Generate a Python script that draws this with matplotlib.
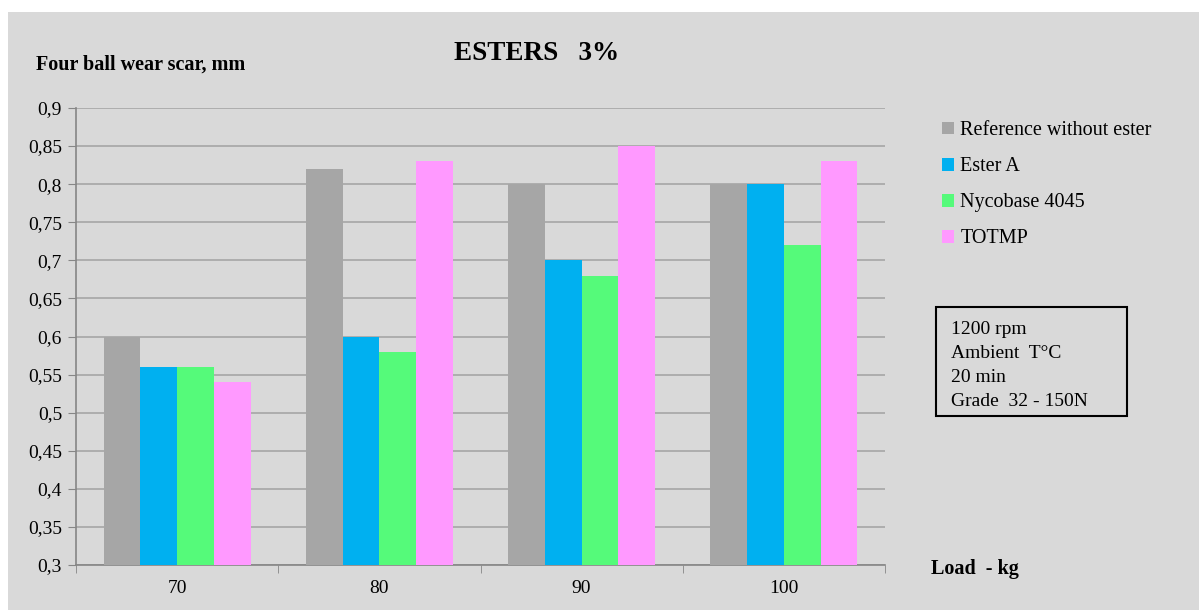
import matplotlib.pyplot as plt
import matplotlib.patches as mpatches
import numpy as np

# data
loads = ["70", "80", "90", "100"]
series_names = ["Reference without ester", "Ester A", "Nycobase 4045", "TOTMP"]
reference = [0.60, 0.82, 0.80, 0.80]
ester_a = [0.56, 0.60, 0.70, 0.80]
nycobase = [0.56, 0.58, 0.68, 0.72]
totmp = [0.54, 0.83, 0.85, 0.83]
y_ticks = [0.3, 0.35, 0.4, 0.45, 0.5, 0.55, 0.6, 0.65, 0.7, 0.75, 0.8, 0.85, 0.9]
y_tick_labels = ["0,3", "0,35", "0,4", "0,45", "0,5", "0,55", "0,6", "0,65", "0,7",
                 "0,75", "0,8", "0,85", "0,9"]
conditions = ["1200 rpm", "Ambient  T°C", "20 min", "Grade  32 - 150N"]

colors = ["#A6A6A6", "#00B0F0", "#55FA7A", "#FF99FF"]
bg = "#D9D9D9"

plt.rcParams["font.family"] = ["Liberation Serif", "DejaVu Serif"]

W, H = 1199, 610
fig = plt.figure(figsize=(W / 100, H / 100), dpi=100)
fig.patch.set_facecolor("white")
fig.patches.append(mpatches.Rectangle((8 / W, 0), 1, 1 - 12 / H,
                                      transform=fig.transFigure,
                                      facecolor=bg, edgecolor="none", zorder=-5))

ax = fig.add_axes([76 / W, 45 / H, 809 / W, 457 / H])
ax.set_facecolor(bg)

x = np.arange(len(loads))
w = 1 / 5.5
all_values = [reference, ester_a, nycobase, totmp]
for i, (vals, name) in enumerate(zip(all_values, series_names)):
    ax.bar(x + (i - 1.5) * w, np.array(vals) - 0.3, w, bottom=0.3,
           color=colors[i], label=name, zorder=3)

ax.set_xlim(-0.5, len(loads) - 0.5)
ax.set_ylim(0.3, 0.9)
ax.set_yticks(y_ticks)
ax.set_yticklabels(y_tick_labels, fontsize=14)
ax.set_xticks(x)
ax.set_xticklabels(loads, fontsize=14)
ax.set_xticks(np.arange(len(loads) + 1) - 0.5, minor=True)
ax.tick_params(axis="x", which="major", length=0, pad=11)
ax.tick_params(axis="x", which="minor", length=6, color="#868686")
ax.tick_params(axis="y", length=6, color="#868686", pad=4)
ax.grid(axis="y", color="#A6A6A6", linewidth=1.2, zorder=0)
for side in ["top", "right"]:
    ax.spines[side].set_visible(False)
for side in ["left", "bottom"]:
    ax.spines[side].set_color("#868686")
    ax.spines[side].set_linewidth(1.2)

fig.text(537 / W, 1 - 54 / H, "ESTERS   3%", ha="center", va="center",
         fontsize=19.5, fontweight="bold")
fig.text(36 / W, 1 - 65 / H, "Four ball wear scar, mm", ha="left", va="center",
         fontsize=14.5, fontweight="bold")
fig.text(931 / W, 1 - 569 / H, "Load  - kg", ha="left", va="center",
         fontsize=14.5, fontweight="bold")

ax.legend(loc="upper left", bbox_to_anchor=(924 / W, 1 - 103 / H),
          bbox_transform=fig.transFigure, frameon=False, fontsize=14.5,
          handlelength=0.6, handleheight=0.6, handletextpad=0.3,
          labelspacing=0.85)

# conditions box
fig.patches.append(mpatches.Rectangle((936 / W, 1 - 416 / H), 191 / W, 109 / H,
                                      transform=fig.transFigure, facecolor="none",
                                      edgecolor="black", linewidth=1.5))
for k, line in enumerate(conditions):
    fig.text(951 / W, 1 - (330 + 24 * k) / H, line, ha="left", va="center",
             fontsize=14)

fig.savefig("out.png", dpi=100, facecolor=fig.get_facecolor())
